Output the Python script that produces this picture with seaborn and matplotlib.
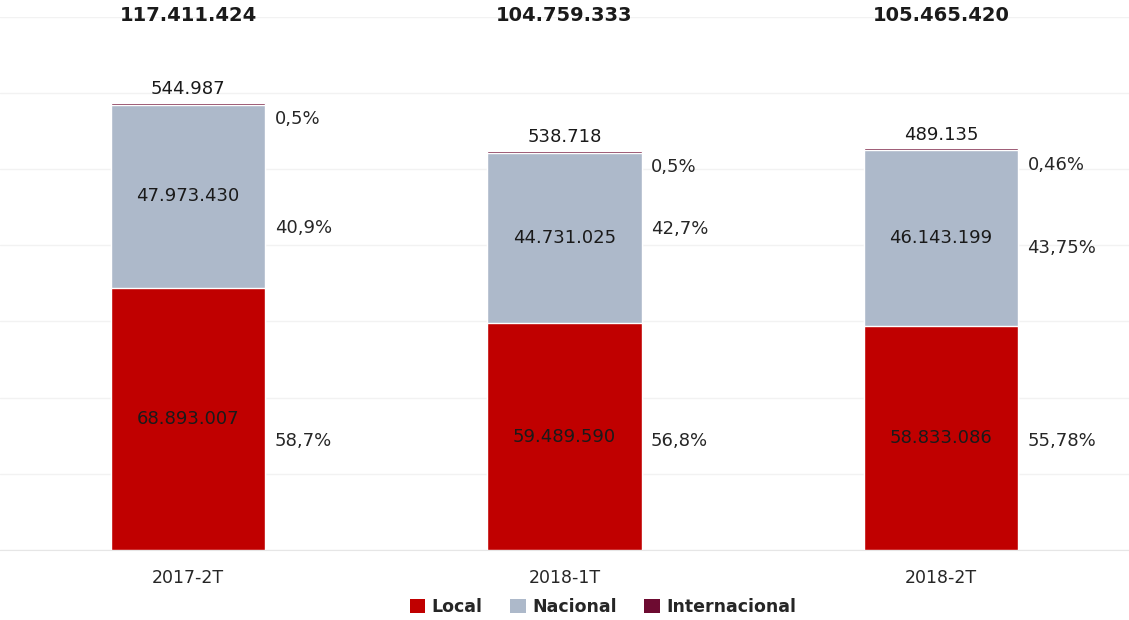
import matplotlib
matplotlib.use('Agg')
import matplotlib.pyplot as plt
import seaborn as sns
import pandas as pd
from matplotlib.patches import Patch
import matplotlib.transforms as mtransforms

periods = ['2017-2T', '2018-1T', '2018-2T']
local = [68893007, 59489590, 58833086]
nacional = [47973430, 44731025, 46143199]
internacional = [544987, 538718, 489135]
totals = [117411424, 104759333, 105465420]
pct_local = ['58,7%', '56,8%', '55,78%']
pct_nacional = ['40,9%', '42,7%', '43,75%']
pct_internacional = ['0,5%', '0,5%', '0,46%']

colors = {'Local': '#C00000', 'Nacional': '#ADB9CA', 'Internacional': '#6D0B31'}

# vertical nudges of the percentage labels relative to segment centres (layout only)
shift_local = [-5.8e6, -1.1e6, -0.8e6]
shift_nac = [-8.4e6, 2.4e6, -2.6e6]


def fmt(v):
    return '{:,}'.format(v).replace(',', '.')


df = pd.DataFrame({'period': periods, 'local': local, 'nacional': nacional,
                   'internacional': internacional})
df['cum_nac'] = df['local'] + df['nacional']
df['cum_int'] = df['cum_nac'] + df['internacional']

sns.set_style('white')
plt.rcParams['font.family'] = ['DejaVu Sans']

fig = plt.figure(figsize=(11.29, 6.2), dpi=100)
ax = fig.add_axes([0.0, 0.113, 1.0, 0.86])

bw = 0.41
sns.barplot(data=df, x='period', y='cum_int', color=colors['Internacional'], width=bw,
            saturation=1, ax=ax, zorder=2)
sns.barplot(data=df, x='period', y='cum_nac', color=colors['Nacional'], width=bw,
            saturation=1, ax=ax, zorder=3)
sns.barplot(data=df, x='period', y='local', color=colors['Local'], width=bw,
            saturation=1, ax=ax, zorder=4)

ax.set_ylim(0, 140e6)
ax.set_xlim(-0.5, 2.5)
ax.set_yticks(range(0, 140000001, 20000000))
ax.set_yticklabels([])
ax.yaxis.grid(True, color='#F2F2F2', linewidth=1)
ax.set_axisbelow(True)
ax.tick_params(axis='y', length=0)
ax.tick_params(axis='x', length=0, pad=14, labelsize=12.5, colors='#262626')
ax.set_xlabel('')
ax.set_ylabel('')
for s in ['top', 'left', 'right']:
    ax.spines[s].set_visible(False)
ax.spines['bottom'].set_color('#E6E6E6')

blend = mtransforms.blended_transform_factory(ax.transData, ax.transAxes)
for i in range(len(periods)):
    # segment values
    ax.text(i, local[i] / 2, fmt(local[i]), ha='center', va='center', fontsize=13,
            color='#1a1a1a', zorder=6)
    ax.text(i, local[i] + nacional[i] / 2, fmt(nacional[i]), ha='center', va='center',
            fontsize=13, color='#1a1a1a', zorder=6)
    ax.text(i, totals[i] + 1.2e6, fmt(internacional[i]), ha='center', va='bottom',
            fontsize=13, color='#1a1a1a', zorder=6)
    # percentages to the right
    xr = i + bw / 2 + 0.025
    ax.text(xr, local[i] / 2 + shift_local[i], pct_local[i], ha='left', va='center',
            fontsize=13, color='#262626')
    ax.text(xr, local[i] + nacional[i] / 2 + shift_nac[i], pct_nacional[i], ha='left',
            va='center', fontsize=13, color='#262626')
    ax.text(xr, totals[i] - 4.3e6, pct_internacional[i], ha='left', va='center', fontsize=13,
            color='#262626')
    # totals on top
    ax.text(i, 1.003, fmt(totals[i]), transform=blend, ha='center', va='center',
            fontsize=14, fontweight='bold', color='#1a1a1a', clip_on=False)

handles = [Patch(facecolor=colors[k], edgecolor='none', label=k) for k in colors]
leg = fig.legend(handles=handles, loc='center', bbox_to_anchor=(0.534, 0.021), ncol=3,
                 frameon=False, handlelength=0.9, handleheight=0.9, handletextpad=0.35,
                 columnspacing=1.6, prop={'size': 12.5, 'weight': 'bold'})

fig.savefig('out.png', dpi=100)
